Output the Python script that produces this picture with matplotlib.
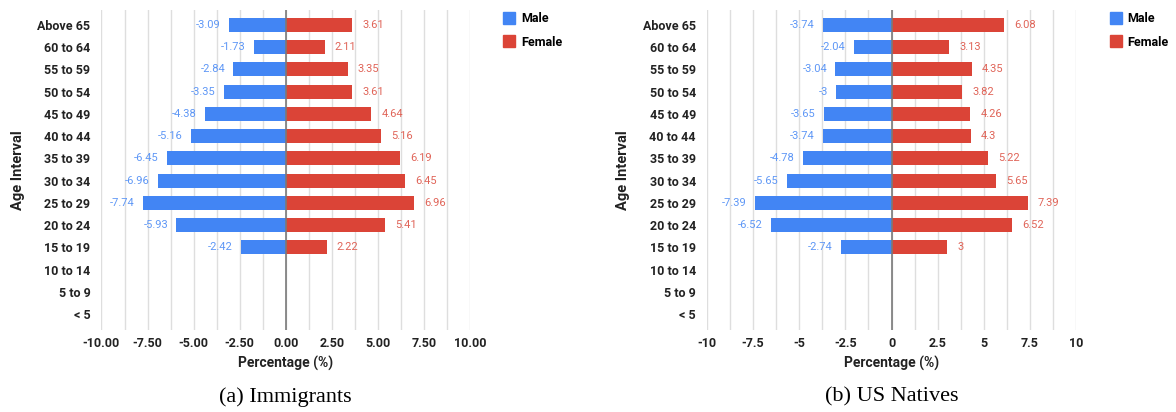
import matplotlib.pyplot as plt
from matplotlib.ticker import MultipleLocator, FuncFormatter

plt.rcParams['font.family'] = ['Roboto', 'DejaVu Sans']

# age groups, bottom to top
ages = ["< 5", "5 to 9", "10 to 14", "15 to 19", "20 to 24", "25 to 29", "30 to 34",
        "35 to 39", "40 to 44", "45 to 49", "50 to 54", "55 to 59", "60 to 64", "Above 65"]

# values from "Above 65" downwards (no data for the three youngest groups)
imm_male = [-3.09, -1.73, -2.84, -3.35, -4.38, -5.16, -6.45, -6.96, -7.74, -5.93, -2.42]
imm_female = [3.61, 2.11, 3.35, 3.61, 4.64, 5.16, 6.19, 6.45, 6.96, 5.41, 2.22]
nat_male = [-3.74, -2.04, -3.04, -3, -3.65, -3.74, -4.78, -5.65, -7.39, -6.52, -2.74]
nat_female = [6.08, 3.13, 4.35, 3.82, 4.26, 4.3, 5.22, 5.65, 7.39, 6.52, 3]

blue = "#4285f4"
red = "#db4437"
blue_txt = "#5e97f6"
red_txt = "#e06458"

fig = plt.figure(figsize=(11.76, 4.12), dpi=100)


def pyramid(ax, male, female, fmt, caption):
    n = len(ages)
    pos = [n - 1 - i for i in range(len(male))]
    ax.barh(pos, male, height=0.63, color=blue, zorder=3)
    ax.barh(pos, female, height=0.63, color=red, zorder=3)
    for p, m, f in zip(pos, male, female):
        ax.text(m - 0.45, p, "%g" % m, ha="right", va="center", fontsize=8, color=blue_txt)
        ax.text(f + 0.55, p, "%g" % f, ha="left", va="center", fontsize=8, color=red_txt)

    ax.set_xlim(-10, 10)
    ax.set_ylim(-0.72, n - 1 + 0.675)
    ax.set_yticks(range(n))
    ax.set_yticklabels(ages, fontsize=9, fontweight="bold", color="#222222")
    ax.xaxis.set_major_locator(MultipleLocator(2.5))
    ax.xaxis.set_minor_locator(MultipleLocator(1.25))
    ax.xaxis.set_major_formatter(FuncFormatter(fmt))
    for lab in ax.get_xticklabels():
        lab.set_fontweight("bold")
        lab.set_fontsize(9)
        lab.set_color("#222222")
    ax.tick_params(axis="x", length=0, which="both", pad=5)
    ax.tick_params(axis="y", length=0, pad=8)
    ax.grid(axis="x", which="both", color="#dedede", linewidth=1, zorder=0)
    ax.axvline(0, color="#7a7a7a", linewidth=1.2, zorder=4)
    for s in ax.spines.values():
        s.set_visible(False)
    ax.set_xlabel("Percentage (%)", fontsize=10, fontweight="bold", color="#222222", labelpad=4)
    ax.set_ylabel("Age Interval", fontsize=10.5, fontweight="bold", color="#222222", labelpad=9)

    # legend with square markers, just right of the plot area
    h1 = plt.Line2D([], [], marker="s", ls="", color=blue, markersize=8.5)
    h2 = plt.Line2D([], [], marker="s", ls="", color=red, markersize=8.5)
    ax.legend([h1, h2], ["Male", "Female"], loc="upper left", bbox_to_anchor=(1.09, 0.994),
              frameon=False, handlelength=1.0, handletextpad=0.45, labelspacing=0.85,
              borderpad=0, borderaxespad=0,
              prop={"family": "Roboto", "weight": "bold", "size": 9})

    box = ax.get_position()
    fig.text((box.x0 + box.x1) / 2, 0.013, caption, ha="center", va="bottom",
             fontsize=16, family="Liberation Serif")


ax1 = fig.add_axes([0.0863, 0.199, 0.3134, 0.7767])
pyramid(ax1, imm_male, imm_female, lambda v, p: "%.2f" % v, "(a) Immigrants")

ax2 = fig.add_axes([0.6012, 0.199, 0.3138, 0.7767])
pyramid(ax2, nat_male, nat_female, lambda v, p: "%g" % v, "(b) US Natives")

fig.savefig("out.png", dpi=100)
